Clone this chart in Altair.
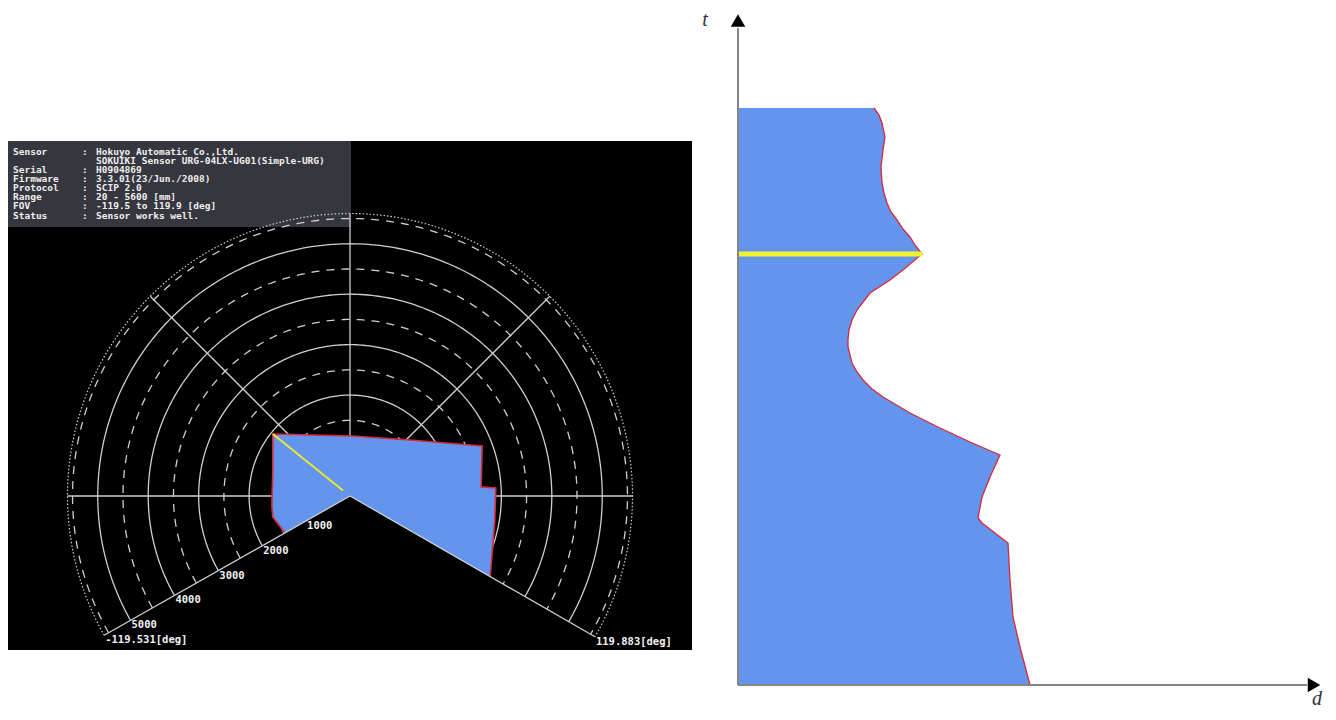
import math
import altair as alt
import pandas as pd

# ---------------- data: left panel (URG scan viewer) ----------------
info_labels = ["Sensor", "", "Serial", "Firmware", "Protocol", "Range", "FOV", "Status"]
info_values = [
    "Hokuyo Automatic Co.,Ltd.",
    "SOKUIKI Sensor URG-04LX-UG01(Simple-URG)",
    "H0904869",
    "3.3.01(23/Jun./2008)",
    "SCIP 2.0",
    "20 - 5600 [mm]",
    "-119.5 to 119.9 [deg]",
    "Sensor works well.",
]
solid_radii_mm = [1000, 2000, 3000, 4000, 5000]
dashed_radii_mm = [500, 1500, 2500, 3500, 4500, 5500]
limit_radius_mm = [5600]
spoke_angles_deg = [-90, -45, 0, 45, 90]
fov_angles_deg = [-119.531, 119.883]
fov_labels = ["-119.531[deg]", "119.883[deg]"]
range_label_mm = [1000, 2000, 3000, 4000, 5000]

# scan outline (mm, sensor frame: x right, y forward)
scan_x_mm = [-1290, -1530, -1550, -1530, -1530, 60, 1190, 2620, 2600, 2890, 2870, 2780]
scan_y_mm = [-730, -420, -180, 510, 1230, 1190, 1110, 990, 180, 160, -480, -1600]
marker_x_mm = [-1530, -140]
marker_y_mm = [1230, 110]

# ---------------- data: right panel (d over t) ----------------
t_vals = [0, 38, 68, 105, 142, 162, 167, 188, 208, 230, 243, 257, 272, 288, 296, 305, 313, 322,
          338, 346, 355, 365, 375, 392, 405, 415, 431, 440, 448, 456, 465, 473, 482, 492, 502,
          518, 535, 548, 562, 570, 577]
d_vals = [292, 282, 275, 272, 270, 244, 240, 244, 252, 262, 232, 202, 172, 145, 134, 125, 119, 114,
          110, 110, 111, 114, 119, 132, 152, 165, 184, 177, 172, 165, 159, 153, 149, 146, 144,
          143, 145, 147, 144, 141, 136]
slice_t = 431
slice_d = 184
axis_t_max = 657
axis_d_max = 569

# ---------------- scales ----------------
K = 0.05045          # px per mm
CX, CY = 342, 488    # sensor position in the view
XP = alt.Scale(domain=[-7000, 7000], range=[CX - 7000 * K, CX + 7000 * K], nice=False, zero=False)
YP = alt.Scale(domain=[-7000, 7000], range=[CY + 7000 * K, CY - 7000 * K], nice=False, zero=False)
XR = alt.Scale(domain=[0, 600], range=[730, 1330], nice=False, zero=False)
YR = alt.Scale(domain=[0, 700], range=[677, -23], nice=False, zero=False)
YI = alt.Scale(domain=[0, 7], range=[143.5, 207.5], nice=False, zero=False)

GRID = "#cfcfcf"
MONO = "DejaVu Sans Mono"
BLUE = "#6495ED"
RED = "#d8283a"


def polar(r, a):
    return r * math.sin(math.radians(a)), r * math.cos(math.radians(a))


def arcs(radii):
    rows = []
    a0, a1 = fov_angles_deg
    n = 240
    for r in radii:
        for i in range(n + 1):
            a = a0 + (a1 - a0) * i / n
            x, y = polar(r, a)
            rows.append({"r": r, "i": i, "x": x, "y": y})
    return pd.DataFrame(rows)


def px(field):
    return alt.X(field, type="quantitative", scale=XP, axis=None)


def py(field):
    return alt.Y(field, type="quantitative", scale=YP, axis=None)


one = alt.Data(values=[{}])

bg = alt.Chart(one).mark_rect(fill="black").encode(
    x=alt.value(0), x2=alt.value(684), y=alt.value(133), y2=alt.value(642))
box = alt.Chart(one).mark_rect(fill="#36363f").encode(
    x=alt.value(0), x2=alt.value(343), y=alt.value(133), y2=alt.value(219))

solid = alt.Chart(arcs(solid_radii_mm)).mark_line(stroke=GRID, strokeWidth=1.3).encode(
    x=px("x"), y=py("y"), detail="r:N", order="i:Q")
dashed = alt.Chart(arcs(dashed_radii_mm)).mark_line(stroke=GRID, strokeWidth=1.3, strokeDash=[8, 7]).encode(
    x=px("x"), y=py("y"), detail="r:N", order="i:Q")
dotted = alt.Chart(arcs(limit_radius_mm)).mark_line(stroke=GRID, strokeWidth=1.2, strokeDash=[1.5, 2]).encode(
    x=px("x"), y=py("y"), detail="r:N", order="i:Q")

spk = []
for a in spoke_angles_deg:
    x1, y1 = polar(limit_radius_mm[0], a)
    spk.append({"x0": 0, "y0": 0, "x1": x1, "y1": y1})
spokes = alt.Chart(pd.DataFrame(spk)).mark_rule(stroke=GRID, strokeWidth=1.3).encode(
    x=px("x0"), y=py("y0"), x2="x1:Q", y2="y1:Q")

poly = pd.DataFrame({
    "x": [0] + scan_x_mm + [0],
    "y": [0] + scan_y_mm + [0],
    "i": list(range(len(scan_x_mm) + 2)),
})
scan_fill = alt.Chart(poly).mark_line(fill=BLUE, strokeOpacity=0).encode(
    x=px("x"), y=py("y"), order="i:Q")
outline = pd.DataFrame({"x": scan_x_mm, "y": scan_y_mm, "i": list(range(len(scan_x_mm)))})
scan_edge = alt.Chart(outline).mark_line(stroke=RED, strokeWidth=1.6).encode(
    x=px("x"), y=py("y"), order="i:Q")
marker = alt.Chart(pd.DataFrame({"x0": [marker_x_mm[0]], "y0": [marker_y_mm[0]],
                                 "x1": [marker_x_mm[1]], "y1": [marker_y_mm[1]]})).mark_rule(
    stroke="#e8e83a", strokeWidth=2).encode(x=px("x0"), y=py("y0"), x2="x1:Q", y2="y1:Q")

rays = []
for a, lab in zip(fov_angles_deg, fov_labels):
    x1, y1 = polar(limit_radius_mm[0], a)
    rays.append({"x0": 0, "y0": 0, "x1": x1, "y1": y1, "lab": lab})
rays_df = pd.DataFrame(rays)
fov_rays = alt.Chart(rays_df).mark_rule(stroke=GRID, strokeWidth=1.3).encode(
    x=px("x0"), y=py("y0"), x2="x1:Q", y2="y1:Q")
fov_text = alt.Chart(rays_df).mark_text(
    align="left", baseline="top", dx=1, dy=0, font=MONO, fontWeight="bold", fontSize=10.5, color="#f2f2f2"
).encode(x=px("x1"), y=py("y1"), text="lab:N")

rl = []
for r in range_label_mm:
    x, y = polar(r, fov_angles_deg[0])
    rl.append({"x": x, "y": y, "lab": str(r)})
range_text = alt.Chart(pd.DataFrame(rl)).mark_text(
    align="left", baseline="top", dx=1, dy=0, font=MONO, fontWeight="bold", fontSize=10.5, color="#f2f2f2"
).encode(x=px("x"), y=py("y"), text="lab:N")

info_df = pd.DataFrame({
    "i": list(range(len(info_labels))),
    "label": info_labels,
    "colon": [":" if s else "" for s in info_labels],
    "value": info_values,
})
iy = alt.Y("i:Q", scale=YI, axis=None)
tx = dict(align="left", baseline="middle", font=MONO, fontWeight="bold", fontSize=9.5, color="#eeeeee")
info_l = alt.Chart(info_df).mark_text(**tx).encode(x=alt.value(5), y=iy, text="label:N")
info_c = alt.Chart(info_df).mark_text(**tx).encode(x=alt.value(74), y=iy, text="colon:N")
info_v = alt.Chart(info_df).mark_text(**tx).encode(x=alt.value(88), y=iy, text="value:N")

# ---------------- right panel ----------------
rx = lambda f: alt.X(f, type="quantitative", scale=XR, axis=None)
ry = lambda f: alt.Y(f, type="quantitative", scale=YR, axis=None)

prof = pd.DataFrame({"t": t_vals, "d": d_vals, "i": list(range(len(t_vals)))})
area_poly = pd.DataFrame({
    "t": [0] + t_vals + [t_vals[-1]],
    "d": [0] + d_vals + [0],
    "i": list(range(len(t_vals) + 2)),
})
area = alt.Chart(area_poly).mark_line(fill=BLUE, strokeOpacity=0).encode(
    y=ry("t"), x=rx("d"), order="i:Q")
edge = alt.Chart(prof).mark_line(stroke=RED, strokeWidth=1.3).encode(
    y=ry("t"), x=rx("d"), order="i:Q")
slice_rule = alt.Chart(pd.DataFrame({"t": [slice_t], "d0": [0], "d1": [slice_d]})).mark_rule(
    stroke="#f2f230", strokeWidth=5).encode(y=ry("t"), x=rx("d0"), x2="d1:Q")

axes_df = pd.DataFrame({"d0": [0, 0], "t0": [0, 0], "d1": [0, axis_d_max], "t1": [axis_t_max, 0]})
axes = alt.Chart(axes_df).mark_rule(stroke="#858585", strokeWidth=2).encode(
    x=rx("d0"), y=ry("t0"), x2="d1:Q", y2="t1:Q")
up_arrow = alt.Chart(pd.DataFrame({"d": [0], "t": [664.5]})).mark_point(
    shape="triangle-up", filled=True, size=210, color="black", opacity=1).encode(x=rx("d"), y=ry("t"))
right_arrow = alt.Chart(pd.DataFrame({"d": [576], "t": [0]})).mark_point(
    shape="triangle-right", filled=True, size=210, color="black", opacity=1).encode(x=rx("d"), y=ry("t"))
axis_names = alt.Chart(pd.DataFrame({"d": [-33, 579], "t": [665, -14], "lab": ["t", "d"]})).mark_text(
    font="Liberation Serif", fontStyle="italic", fontSize=20, color="#333333", baseline="middle"
).encode(x=rx("d"), y=ry("t"), text="lab:N")

chart = alt.layer(
    bg, box, solid, dashed, dotted, spokes, scan_fill, scan_edge, marker, fov_rays,
    range_text, fov_text, info_l, info_c, info_v,
    area, edge, slice_rule, axes, up_arrow, right_arrow, axis_names,
).resolve_scale(x="independent", y="independent").properties(
    width=1320, height=704, padding=0, autosize="none", background="white"
).configure_view(stroke=None)

chart.save("out.html", embed_options={"renderer": "svg", "actions": False})
